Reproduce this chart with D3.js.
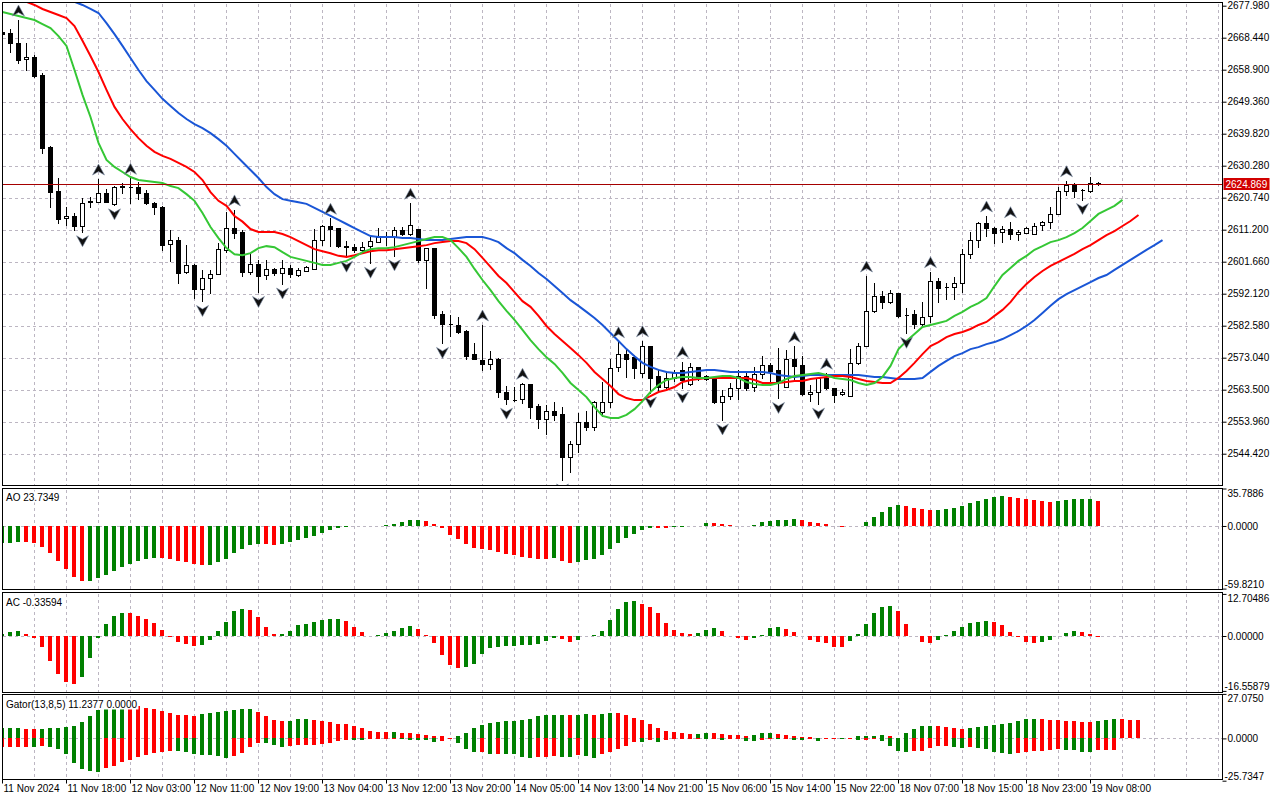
<!DOCTYPE html>
<html><head><meta charset="utf-8">
<script src="https://cdn.jsdelivr.net/npm/d3@7"></script>
<style>
body{margin:0;background:#fff;}
svg{display:block;}
text{font-family:"Liberation Sans",Arial,sans-serif;font-size:10px;fill:#000;}
</style></head>
<body>
<svg id="chart" width="1280" height="800"></svg>
<script>
// ---------------- DATA ----------------
const timeIdx = [0,8,16,24,32,40,48,56,64,72,80,88,96,104,112,120,128,136];
const timeLabels = ["11 Nov 2024","11 Nov 18:00","12 Nov 03:00","12 Nov 11:00","12 Nov 19:00","13 Nov 04:00","13 Nov 12:00","13 Nov 20:00","14 Nov 05:00","14 Nov 13:00","14 Nov 21:00","15 Nov 06:00","15 Nov 14:00","15 Nov 22:00","18 Nov 07:00","18 Nov 15:00","18 Nov 23:00","19 Nov 08:00"];
const priceTicks = [2677.98,2668.44,2658.90,2649.36,2639.82,2630.28,2620.74,2611.20,2601.66,2592.12,2582.58,2573.04,2563.50,2553.96,2544.42];
const bidPrice = 2624.869;

const open = [2670.0,2669.7,2666.9,2662.0,2662.6,2657.3,2635.9,2622.8,2614.6,2615.3,
2612.3,2619.5,2619.4,2622.1,2618.8,2624.0,2624.0,2624.0,2622.2,2619.3,
2618.1,2607.0,2608.1,2598.7,2600.7,2593.5,2596.7,2597.9,2605.2,2611.6,
2610.4,2598.5,2600.9,2597.7,2599.4,2598.2,2599.9,2597.7,2598.9,2599.4,
2608.1,2612.3,2611.6,2606.1,2606.1,2605.1,2606.3,2607.6,2609.1,2609.1,
2611.1,2609.8,2611.3,2602.2,2605.6,2586.1,2583.0,2582.8,2580.9,2574.1,
2572.3,2571.1,2572.7,2562.7,2560.4,2560.6,2565.1,2558.6,2554.9,2557.1,
2556.2,2543.5,2547.2,2553.8,2552.3,2556.9,2559.7,2570.3,2574.1,2573.3,
2568.5,2576.4,2567.5,2564.4,2567.1,2569.4,2565.1,2570.2,2567.6,2566.9,
2559.9,2561.6,2563.9,2567.6,2564.2,2568.2,2570.8,2569.4,2564.2,2572.8,
2570.8,2562.1,2562.8,2566.9,2563.9,2562.1,2561.7,2571.4,2576.6,2587.1,
2591.4,2589.6,2592.2,2585.8,2586.0,2583.0,2585.6,2595.9,2594.2,2594.2,
2595.2,2603.9,2608.1,2613.1,2611.6,2610.4,2611.3,2609.9,2610.3,2609.9,
2612.6,2613.4,2615.8,2622.7,2624.5,2623.0,2622.7,2625.0];
const high = [2671.0,2671.0,2673.7,2667.0,2663.3,2658.0,2636.2,2626.5,2618.0,2616.1,
2620.6,2621.0,2626.3,2623.3,2624.2,2625.0,2626.5,2625.3,2623.0,2619.4,
2618.2,2611.1,2608.9,2606.6,2601.0,2599.2,2599.2,2607.1,2616.6,2617.1,
2611.1,2604.1,2602.2,2602.2,2599.9,2602.2,2600.7,2599.7,2600.4,2611.3,
2612.5,2614.6,2611.8,2607.8,2606.9,2607.6,2609.3,2611.6,2610.6,2612.1,
2612.1,2619.1,2611.5,2605.8,2605.8,2587.1,2585.8,2585.1,2581.2,2577.3,
2582.8,2575.1,2572.9,2564.6,2564.4,2565.4,2565.3,2559.2,2558.9,2559.7,
2558.4,2548.2,2556.5,2557.1,2560.2,2565.9,2572.8,2577.8,2575.3,2573.8,
2578.1,2576.6,2569.4,2568.4,2569.4,2571.9,2571.4,2570.4,2567.9,2567.0,
2563.4,2565.4,2569.4,2568.4,2570.3,2573.5,2571.4,2575.8,2575.3,2576.4,
2573.4,2564.8,2567.0,2568.4,2564.0,2563.6,2575.7,2577.3,2597.4,2595.2,
2592.8,2593.2,2592.3,2587.8,2587.3,2589.7,2598.7,2596.7,2595.4,2597.2,
2605.4,2610.6,2613.6,2615.3,2612.1,2612.3,2613.6,2611.1,2612.1,2613.3,
2613.8,2618.0,2624.0,2625.8,2625.0,2623.2,2627.0,2625.5];
const low = [2669.0,2664.1,2660.8,2658.8,2656.8,2634.2,2617.9,2613.3,2612.6,2611.1,
2610.6,2617.9,2619.4,2619.4,2618.6,2622.1,2619.3,2620.4,2618.9,2615.8,
2605.2,2601.9,2595.2,2598.2,2590.8,2589.8,2592.4,2597.9,2604.6,2608.6,
2597.5,2597.9,2592.5,2596.5,2597.7,2595.0,2597.2,2597.5,2598.9,2599.4,
2606.6,2606.4,2606.1,2603.0,2604.6,2604.6,2601.2,2607.4,2606.6,2603.4,
2609.6,2609.6,2601.7,2593.8,2584.8,2577.3,2579.5,2580.5,2572.8,2572.8,
2569.4,2569.6,2561.4,2559.2,2560.2,2559.5,2555.1,2552.0,2550.3,2554.5,
2536.6,2539.0,2544.8,2551.5,2551.5,2555.6,2558.4,2569.1,2567.4,2567.1,
2567.3,2562.5,2563.4,2564.1,2566.0,2564.0,2564.8,2566.4,2566.4,2559.6,
2554.5,2560.7,2560.7,2563.4,2563.2,2566.9,2565.6,2560.9,2564.2,2566.0,
2561.9,2560.2,2559.2,2563.7,2559.9,2561.9,2561.7,2571.2,2576.6,2586.8,
2587.8,2589.3,2585.1,2580.3,2582.0,2582.8,2583.8,2589.5,2590.5,2590.5,
2592.7,2602.7,2605.9,2609.3,2607.3,2607.6,2608.3,2608.1,2610.1,2609.9,
2611.1,2611.6,2615.8,2621.5,2620.8,2620.2,2622.5,2624.5];
const close = [2669.5,2666.8,2661.8,2662.6,2657.1,2635.6,2622.5,2614.4,2615.2,2612.3,
2619.3,2619.7,2622.1,2619.4,2624.0,2624.1,2624.0,2622.1,2619.1,2617.9,
2606.6,2608.1,2598.2,2600.7,2593.5,2596.7,2597.9,2605.4,2611.6,2610.3,
2598.5,2600.9,2597.5,2599.4,2598.2,2599.7,2597.9,2599.2,2600.2,2608.1,
2612.3,2611.5,2606.4,2606.2,2605.1,2606.1,2607.8,2609.1,2608.9,2611.1,
2609.8,2612.6,2602.2,2605.6,2585.8,2583.1,2583.1,2580.8,2573.5,2572.8,
2571.1,2572.6,2562.7,2560.6,2560.5,2565.1,2558.4,2554.8,2557.1,2556.1,
2543.5,2547.2,2553.8,2552.3,2559.7,2559.7,2570.1,2574.1,2572.8,2569.9,
2576.4,2567.1,2564.2,2566.9,2568.6,2566.4,2570.2,2567.6,2566.6,2559.9,
2561.6,2564.0,2567.6,2564.0,2568.1,2570.8,2569.2,2565.7,2572.8,2570.7,
2562.1,2562.8,2566.9,2563.9,2561.9,2562.8,2571.4,2576.6,2587.1,2591.4,
2589.7,2592.2,2585.5,2585.7,2583.0,2585.3,2595.9,2593.9,2594.0,2595.2,
2603.9,2608.1,2613.1,2611.6,2610.3,2611.3,2609.9,2610.4,2611.8,2612.4,
2613.6,2615.8,2622.7,2624.5,2622.7,2622.9,2625.0,2624.869];

// Alligator (shifted values as displayed)
const jaw = [2691.6,2689.8,2688.0,2686.2,2684.7,2683.3,2682.1,2680.9,2680.0,2679.1,
2678.2,2677.0,2675.8,2672.8,2669.5,2666.0,2662.4,2658.8,2655.5,2652.9,
2650.2,2648.1,2646.0,2644.2,2642.7,2641.5,2640.0,2638.2,2636.2,2633.8,
2631.4,2629.0,2626.6,2623.9,2621.8,2620.3,2619.8,2619.4,2618.9,2617.7,
2616.5,2615.3,2614.1,2612.9,2611.7,2610.5,2609.3,2609.0,2609.0,2609.0,
2608.7,2608.7,2608.4,2608.1,2608.1,2608.1,2608.4,2608.7,2609.0,2609.0,
2609.0,2608.4,2607.5,2605.7,2604.2,2602.2,2600.4,2598.3,2596.5,2594.4,
2592.3,2590.2,2588.5,2586.7,2584.9,2582.8,2580.4,2578.0,2575.6,2573.5,
2571.5,2570.3,2569.4,2568.8,2568.5,2568.5,2568.8,2569.1,2569.4,2569.4,
2569.1,2568.8,2568.8,2568.8,2568.8,2568.8,2568.5,2567.9,2567.6,2567.3,
2567.6,2567.9,2567.9,2567.9,2567.9,2567.9,2567.9,2567.9,2567.6,2567.3,
2567.3,2567.0,2566.7,2566.7,2566.7,2567.0,2568.8,2570.6,2572.1,2573.5,
2574.4,2575.6,2576.2,2577.1,2577.7,2578.6,2579.8,2581.0,2582.5,2584.3,
2586.4,2588.5,2590.5,2592.0,2593.2,2594.4,2595.6,2596.8,2597.7,2599.2,
2600.7,2602.2,2603.7,2605.2,2606.6,2608.1];
const teeth = [2682.1,2680.9,2680.0,2679.1,2678.2,2677.0,2676.1,2675.2,2674.3,2671.9,
2667.5,2663.0,2658.2,2652.9,2647.8,2644.2,2641.2,2638.5,2636.2,2634.4,
2633.2,2632.3,2631.1,2629.9,2628.4,2626.0,2622.4,2619.8,2618.3,2615.3,
2613.6,2611.4,2610.5,2610.5,2610.5,2609.9,2609.0,2607.8,2606.6,2605.4,
2604.8,2604.2,2603.4,2603.1,2603.6,2604.2,2604.8,2605.1,2605.1,2605.4,
2605.7,2606.0,2606.3,2606.6,2607.2,2607.5,2607.8,2607.8,2607.2,2605.4,
2602.8,2600.1,2597.4,2595.3,2592.6,2589.9,2588.2,2585.5,2582.5,2580.1,
2578.0,2575.9,2573.8,2571.5,2568.8,2566.7,2564.6,2562.2,2561.0,2560.4,
2560.4,2561.6,2562.8,2563.4,2564.3,2565.8,2566.4,2566.7,2567.0,2567.0,
2567.0,2567.0,2567.0,2567.0,2566.4,2565.5,2565.5,2565.5,2565.8,2566.1,
2566.1,2566.7,2567.0,2567.3,2567.6,2567.6,2567.3,2566.7,2566.1,2565.8,
2565.5,2565.5,2567.0,2569.1,2571.5,2574.1,2576.5,2577.7,2579.2,2580.1,
2580.7,2581.6,2582.8,2583.7,2585.5,2587.3,2589.6,2592.6,2595.0,2597.1,
2598.9,2600.4,2601.6,2602.8,2604.0,2605.4,2606.6,2608.1,2609.6,2610.8,
2612.3,2613.8,2615.6];
const lips = [2676.1,2675.5,2674.9,2674.3,2673.7,2672.5,2671.3,2668.9,2666.0,2658.8,
2651.4,2644.8,2637.1,2632.0,2629.9,2628.4,2626.9,2626.0,2625.7,2625.4,
2625.1,2624.2,2623.6,2621.8,2619.8,2616.2,2612.0,2608.7,2605.7,2603.9,
2603.6,2604.2,2605.7,2606.3,2606.0,2604.5,2603.1,2602.5,2601.9,2601.3,
2600.7,2600.7,2601.3,2601.9,2603.1,2604.5,2605.4,2605.7,2605.7,2606.0,
2606.6,2607.2,2607.8,2608.4,2609.0,2609.0,2608.1,2605.7,2603.1,2599.5,
2596.2,2593.2,2589.9,2587.0,2584.3,2581.3,2578.3,2575.6,2573.2,2571.2,
2568.5,2565.5,2563.4,2561.3,2558.3,2555.7,2555.1,2555.1,2556.0,2557.7,
2560.1,2562.8,2564.9,2566.4,2567.0,2567.3,2567.3,2567.0,2567.0,2567.3,
2567.6,2567.6,2567.0,2565.8,2565.2,2564.9,2564.9,2565.5,2566.7,2567.6,
2567.9,2568.2,2568.5,2567.9,2567.0,2566.7,2566.4,2565.5,2564.9,2565.5,
2567.3,2570.6,2575.6,2578.0,2580.1,2582.2,2582.8,2583.4,2584.0,2585.5,
2586.7,2588.2,2589.3,2590.8,2594.4,2597.7,2599.8,2601.9,2603.4,2605.2,
2606.3,2607.5,2608.1,2609.0,2610.2,2611.7,2613.8,2615.9,2617.1,2618.3,
2620.1];

const fractalUp = [2,12,16,29,41,51,60,65,77,80,85,99,103,108,116,123,126,133];
const fractalDown = [10,14,25,32,35,43,46,49,55,63,70,81,85,90,97,102,113,135];

const ao = [-16.5,-15.9,-15.0,-15.1,-15.9,-20.1,-25.5,-33.4,-40.8,-48.4,
-52.5,-52.3,-49.4,-46.8,-43.0,-39.2,-36.3,-33.4,-31.2,-30.3,
-30.5,-31.2,-33.4,-34.4,-36.3,-37.3,-37.0,-34.4,-31.2,-25.5,
-21.7,-18.2,-16.8,-17.2,-18.2,-16.9,-15.0,-13.4,-11.1,-9.6,
-6.4,-3.8,-1.9,-0.6,-0.3,-0.4,-0.5,-0.3,0.6,1.6,
3.8,5.7,5.8,5.1,1.9,-2.2,-8.6,-12.7,-16.9,-20.7,
-21.7,-22.9,-24.5,-26.4,-27.7,-29.3,-30.3,-31.2,-31.4,-31.0,
-33.4,-35.0,-34.4,-32.8,-31.8,-27.7,-21.7,-15.9,-11.1,-7.3,
-3.5,-1.6,-1.7,-1.9,-1.2,-0.6,-0.2,0.3,2.9,2.6,
1.9,1.0,0.2,-0.1,0.6,3.8,4.8,5.7,5.9,6.7,
5.7,4.1,2.9,1.9,0.1,-0.9,-0.5,0.2,3.8,8.6,
13.7,18.2,20.1,19.1,17.5,16.6,15.3,15.6,16.2,17.2,
19.1,21.7,23.9,25.8,27.7,28.7,27.7,26.8,25.8,24.8,
23.9,22.9,23.9,24.8,25.5,25.8,25.9,23.7349];
const ac = [0.5,1.2,1.5,0.7,-0.5,-3.3,-7.5,-11.4,-13.9,-14.4,
-12.3,-6.5,-0.5,3.7,6.0,6.9,6.8,6.0,5.1,4.0,
1.8,-0.2,-1.7,-2.3,-3.0,-2.6,-1.1,1.5,4.2,7.4,
8.3,7.8,5.7,2.7,0.6,0.7,1.5,3.2,3.7,4.2,
4.8,5.1,5.2,4.5,2.7,1.2,-0.1,0.2,0.8,1.4,
2.3,2.9,2.2,0.3,-2.0,-5.8,-8.6,-9.5,-9.4,-8.3,
-5.3,-3.6,-3.2,-3.0,-2.9,-2.8,-2.6,-2.3,-1.4,-0.5,
-0.9,-1.9,-1.3,0.1,0.4,1.6,4.9,8.3,10.4,10.7,
9.6,8.8,6.8,3.8,1.9,0.9,0.7,1.0,1.9,2.5,
1.5,0.0,-0.7,-1.1,-0.7,0.3,2.4,2.8,2.0,1.3,
-0.1,-1.1,-1.7,-2.2,-3.2,-3.25,-1.4,0.6,3.7,7.0,
8.8,9.1,7.6,3.7,-0.1,-1.7,-2.2,-1.1,0.3,1.5,
2.8,3.8,4.1,4.6,4.3,3.3,1.3,-0.4,-1.9,-2.2,
-1.8,-1.2,-0.1,1.0,1.6,1.3,0.7,-0.33594];
const gatorUp = [6.1,6.15,6.2,6.0,5.5,5.6,6.1,6.2,6.9,7.5,
9.9,13.6,17.2,19.5,21.0,21.5,20.6,19.6,18.6,17.8,
16.4,15.6,14.4,14.0,13.9,15.0,15.4,16.2,16.6,17.2,
17.8,17.9,16.0,13.6,11.1,10.3,10.5,11.7,11.8,11.1,
10.3,9.7,8.9,8.7,7.5,6.1,4.3,3.8,3.7,3.9,
3.4,3.0,2.6,2.2,1.6,1.4,0.4,1.4,3.2,6.3,
8.3,9.1,9.9,10.3,10.5,10.9,11.5,13.6,14.0,14.2,
14.25,14.1,14.2,14.8,14.2,14.8,15.4,15.2,14.2,12.3,
11.1,8.7,6.5,4.5,3.6,3.2,2.6,2.8,3.2,3.1,
2.6,2.0,1.9,1.4,1.8,3.2,3.3,2.6,2.0,1.4,
0.8,0.6,0.2,0.15,0.1,0.4,0.3,1.4,1.45,1.5,
2.0,1.4,0.1,3.2,5.7,7.5,7.6,7.5,6.9,6.3,
5.7,6.3,6.9,7.5,8.1,8.7,9.3,10.5,11.7,11.8,
11.7,11.1,11.0,10.5,10.4,9.9,9.8,10.5,11.1,11.7,
11.6,11.24,11.2];
const gatorDown = [-5.3,-5.25,-5.1,-5.05,-5.3,-4.7,-5.3,-6.3,-9.3,-14.8,
-18.8,-19.8,-20.2,-17.8,-16.8,-14.4,-13.2,-11.3,-9.9,-8.7,
-8.3,-7.6,-7.8,-8.1,-9.3,-10.3,-10.4,-10.7,-11.7,-10.7,
-8.7,-5.3,-2.6,-3.0,-4.3,-5.5,-4.7,-4.3,-4.2,-3.8,
-3.2,-2.6,-1.8,-1.0,-1.1,-1.2,-0.4,-0.35,-0.2,-0.15,
-0.6,-0.7,-1.0,-1.2,-2.0,-1.4,-0.2,-2.6,-6.3,-8.1,
-8.0,-9.7,-9.5,-9.6,-9.7,-11.1,-11.7,-11.3,-11.1,-10.9,
-11.1,-11.2,-10.1,-10.7,-11.7,-9.7,-8.1,-6.3,-4.5,-2.0,
-2.1,-1.2,-2.0,-1.0,-0.4,-0.3,-0.25,-0.2,-0.4,-0.3,
-0.8,-0.4,-0.3,-1.4,-1.5,-0.8,-0.4,-0.6,-0.4,-0.8,
-1.0,-0.6,-1.4,-0.6,-0.4,-0.6,-0.2,-1.0,-0.9,-0.2,
-1.4,-4.5,-7.5,-8.3,-7.7,-7.6,-5.7,-4.5,-4.4,-5.1,
-6.1,-5.5,-6.1,-6.3,-8.1,-9.1,-9.7,-9.1,-8.3,-7.7,
-7.6,-7.1,-6.7,-6.8,-7.3,-8.1,-8.3,-7.1,-7.0,-6.9,
0];

const aoTicks = [35.7886, 0, -59.8210], aoTickText = ["35.7886","0.0000","-59.8210"];
const acTicks = [12.70486, 0, -16.55879], acTickText = ["12.70486","0.00000","-16.55879"];
const gTicks = [27.0750, 0, -25.7347], gTickText = ["27.0750","0.0000","-25.7347"];
const aoTitle = "AO 23.7349", acTitle = "AC -0.33594", gatorTitle = "Gator(13,8,5) 11.2377 0.0000";

// ---------------- DRAW ----------------
const GREEN = "#008000", RED = "#ff0000", GRID = "#bcb6c2";
const svg = d3.select("#chart");
svg.append("rect").attr("width",1280).attr("height",800).attr("fill","#fff");

const XL = 2.5, XR = 1222.5;
const x = d3.scaleLinear().domain([0,152]).range([2,1218]);
const P = {main:[2.5,485.5], ao:[488.5,589.5], ac:[592.5,692.5], gator:[694.5,779.5]};
const yMain = d3.scaleLinear().domain([2535.09,2679.08]).range([485,2]);
const yAO = d3.scaleLinear().domain([-59.821,35.7886]).range([588.6,488.5]);
const yAC = d3.scaleLinear().domain([-16.55879,12.70486]).range([690.9,593.9]);
const yG = d3.scaleLinear().domain([-25.7347,27.075]).range([780.7,693.9]);

const defs = svg.append("defs");
Object.entries(P).forEach(([k,[t,b]])=>{
  defs.append("clipPath").attr("id","clip-"+k).append("rect")
    .attr("x",XL).attr("y",t).attr("width",XR-XL).attr("height",b-t);
});

// grid
const grid = svg.append("g").attr("stroke",GRID).attr("stroke-dasharray","3,3").attr("shape-rendering","crispEdges");
const vIdx = d3.range(4,153,4);
Object.values(P).forEach(([t,b])=>{
  grid.selectAll(null).data(vIdx).join("line")
    .attr("x1",d=>x(d)+0.5).attr("x2",d=>x(d)+0.5).attr("y1",t+1).attr("y2",b-1);
});
grid.selectAll(null).data(priceTicks.slice(1)).join("line")
  .attr("x1",XL).attr("x2",XR).attr("y1",d=>Math.round(yMain(d))+0.5).attr("y2",d=>Math.round(yMain(d))+0.5);
[[yAO],[yAC],[yG]].forEach(([s])=>{
  grid.append("line").attr("x1",XL).attr("x2",XR)
    .attr("y1",Math.round(s(0))+0.5).attr("y2",Math.round(s(0))+0.5);
});

// candles
const main = svg.append("g").attr("clip-path","url(#clip-main)");
const cg = main.append("g").attr("shape-rendering","crispEdges");
const bars = d3.range(open.length);
cg.selectAll("line.w").data(bars).join("line").attr("class","w")
  .attr("x1",i=>x(i)+0.5).attr("x2",i=>x(i)+0.5)
  .attr("y1",i=>Math.round(yMain(high[i]))).attr("y2",i=>Math.round(yMain(low[i]))+1)
  .attr("stroke","#000");
cg.selectAll("path.b").data(bars).join("path").attr("class","b")
  .attr("d",i=>{
    const t = Math.round(yMain(Math.max(open[i],close[i])))+0.5;
    const h = Math.round(yMain(Math.min(open[i],close[i])))+0.5 - t;
    const x0 = x(i)-1.5;
    return `M${x0},${t}h4v${h}h-4Z`;
  })
  .attr("fill",i=>close[i]>=open[i]?"#fff":"#000")
  .attr("stroke","#000");

// alligator
const line = d3.line().x((d,i)=>x(i)+0.5).y(d=>yMain(d));
[[jaw,"#1a56d6"],[teeth,"#ff0000"],[lips,"#35c735"]].forEach(([arr,c])=>{
  main.append("path").datum(arr).attr("d",line).attr("fill","none")
    .attr("stroke",c).attr("stroke-width",2);
});

// bid line
const yb = Math.round(yMain(bidPrice))+0.5;
main.append("line").attr("x1",XL).attr("x2",XR).attr("y1",yb).attr("y2",yb)
  .attr("stroke","#a50000").attr("stroke-width",1);

// fractals
const fg = main.append("g");
fg.selectAll("path.u").data(fractalUp).join("path").attr("class","u")
  .attr("transform",i=>`translate(${x(i)+0.5},${yMain(high[i])-9})`)
  .attr("d","M0,-6L6,5L0,1.5L-6,5Z").attr("fill","#111").attr("stroke","#7d8fa8").attr("stroke-width",0.6);
fg.selectAll("path.d").data(fractalDown).join("path").attr("class","d")
  .attr("transform",i=>`translate(${x(i)+0.5},${yMain(low[i])+9})`)
  .attr("d","M0,6L6,-5L0,-1.5L-6,-5Z").attr("fill","#111").attr("stroke","#7d8fa8").attr("stroke-width",0.6);

// histograms
function hist(key, vals, ys, colorFn){
  const g = svg.append("g").attr("clip-path",`url(#clip-${key})`).attr("shape-rendering","crispEdges");
  const z = Math.round(ys(0));
  g.selectAll("rect").data(vals).join("rect")
    .attr("x",(d,i)=>x(i)-2).attr("width",4)
    .attr("y",d=>Math.min(z,Math.round(ys(d))))
    .attr("height",d=>Math.abs(Math.round(ys(d))-z))
    .attr("fill",(d,i)=>colorFn(d,i,vals));
}
const upCol = (d,i,v)=> i===0 ? GREEN : (d>v[i-1]?GREEN:RED);
hist("ao", ao, yAO, upCol);
hist("ac", ac, yAC, upCol);
hist("gator", gatorUp, yG, upCol);
hist("gator", gatorDown, yG, (d,i,v)=> i===0 ? RED : (Math.abs(d)>Math.abs(v[i-1])?GREEN:RED));

// panel titles
function title(txt, y){
  const g = svg.append("g");
  const t = g.append("text").attr("x",6).attr("y",y).attr("dy","0.35em").text(txt);
  const bb = t.node().getBBox();
  g.insert("rect","text").attr("x",bb.x-1).attr("y",bb.y).attr("width",bb.width+2).attr("height",bb.height).attr("fill","#fff");
}
title(aoTitle, 497);
title(acTitle, 602);
title(gatorTitle, 704);

// borders
const bd = svg.append("g").attr("fill","none").attr("stroke","#000").attr("shape-rendering","crispEdges");
Object.values(P).forEach(([t,b])=>{
  bd.append("rect").attr("x",XL).attr("y",t).attr("width",XR-XL).attr("height",b-t);
});

// price axis
const pa = svg.append("g").attr("transform",`translate(${XR},0)`)
  .call(d3.axisRight(yMain).tickValues(priceTicks).tickFormat(d3.format(".3f")).tickSize(4).tickPadding(1));
pa.select(".domain").remove();
pa.selectAll("text").style("font-family",'"Liberation Sans",Arial,sans-serif').style("font-size","10px");

// bid label
const bl = svg.append("g");
bl.append("rect").attr("x",XR+1).attr("y",yb-6.5).attr("width",46).attr("height",12).attr("fill","#d10000");
bl.append("text").attr("x",XR+3).attr("y",yb).attr("dy","0.35em").style("fill","#fff").text(d3.format(".3f")(bidPrice));

// sub axes
function subAxis(ys, ticks, texts){
  const g = svg.append("g").attr("transform",`translate(${XR},0)`)
    .call(d3.axisRight(ys).tickValues(ticks).tickFormat((d,i)=>texts[i]).tickSize(4).tickPadding(1));
  g.select(".domain").remove();
  g.selectAll("text").style("font-family",'"Liberation Sans",Arial,sans-serif').style("font-size","10px")
    .attr("dy",(d,i)=> i===0 ? "0.75em" : (i===2 ? "-0.1em" : "0.32em"))
    .attr("x",(d)=> d<0 ? 2 : 5);
}
subAxis(yAO, aoTicks, aoTickText);
subAxis(yAC, acTicks, acTickText);
subAxis(yG, gTicks, gTickText);

// time axis
const ta = svg.append("g").attr("transform",`translate(0,${P.gator[1]})`)
  .call(d3.axisBottom(x).tickValues(timeIdx).tickFormat((d,i)=>timeLabels[i]).tickSize(4).tickPadding(1));
ta.select(".domain").remove();
ta.selectAll("text").attr("text-anchor","start").attr("x",1)
  .style("font-family",'"Liberation Sans",Arial,sans-serif').style("font-size","10px");
</script>
</body></html>
